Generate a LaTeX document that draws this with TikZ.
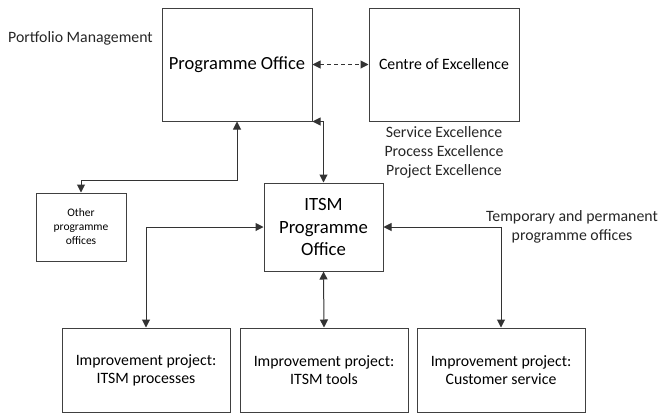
\documentclass[tikz,border=0pt]{standalone}
\usepackage{fontspec}
\setmainfont{Carlito}
\usetikzlibrary{arrows.meta}
\begin{document}
\begin{tikzpicture}[x=1pt,y=-1pt,
  box/.style={draw=black!75,line width=1pt,inner sep=0pt,align=center},
  conn/.style={draw=black!80,line width=1pt,{Triangle[length=8pt,width=8pt]}-{Triangle[length=8pt,width=8pt]}},
  lbl/.style={inner sep=0pt,align=center,text=black!85}]
\useasboundingbox (0,0) rectangle (659,416);
\node[box,minimum width=150pt,minimum height=113pt,font=\fontsize{18.5}{22}\selectfont] (po) at (237,64.5) {Programme Office};
\node[box,minimum width=150pt,minimum height=113pt,font=\fontsize{15.8}{18}\selectfont] (coe) at (444,64.5) {Centre of Excellence};
\node[box,minimum width=119pt,minimum height=88pt,font=\fontsize{18.7}{22.5}\selectfont] (itsm) at (323.5,227) {ITSM\\Programme\\Office};
\node[box,minimum width=90pt,minimum height=68pt,font=\fontsize{11.5}{14}\selectfont] (other) at (81,227) {Other\\programme\\offices};
\node[box,minimum width=168pt,minimum height=84pt,font=\fontsize{15.8}{18}\selectfont] (imp1) at (146,370) {Improvement project:\\ITSM processes};
\node[box,minimum width=168pt,minimum height=84pt,font=\fontsize{15.8}{18}\selectfont] (imp2) at (324,370) {Improvement project:\\ITSM tools};
\node[box,minimum width=168pt,minimum height=84pt,font=\fontsize{15.8}{18}\selectfont] (imp3) at (501,370) {Improvement project:\\Customer service};
\node[lbl,anchor=west,font=\fontsize{15.8}{18}\selectfont] (pm) at (8,38) {Portfolio Management};
\node[lbl,font=\fontsize{15.8}{19}\selectfont] (exc) at (444,152) {Service Excellence\\Process Excellence\\Project Excellence};
\node[lbl,font=\fontsize{15.8}{19}\selectfont] (tmp) at (572,227) {Temporary and permanent\\programme offices};
\coordinate (j1) at (237,180);
\draw[conn,dash pattern=on 4pt off 3pt] (po.east) -- (coe.west);
\draw[conn] (po.south) |- (j1) -| (other.north);
\draw[conn] (itsm.north) |- (po.south east);
\draw[conn] (itsm.west) -| (imp1.north);
\draw[conn] (itsm.south) -- (imp2.north);
\draw[conn] (itsm.east) -| (imp3.north);
\end{tikzpicture}
\end{document}
